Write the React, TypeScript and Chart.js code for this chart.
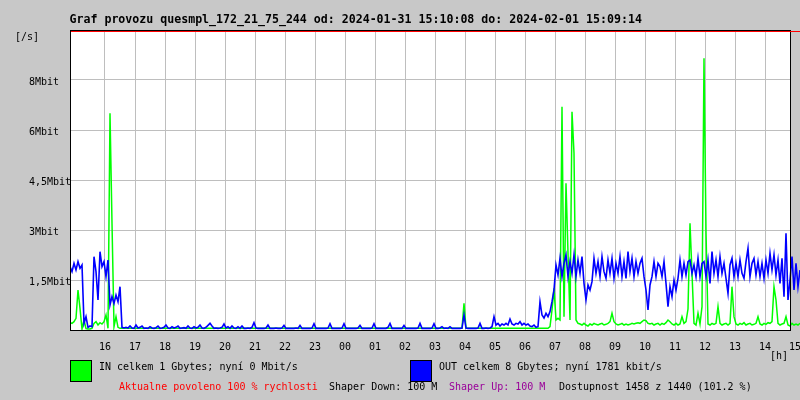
import React, { useEffect, useRef } from "react";
import { Chart, registerables } from "chart.js";

Chart.register(...registerables);

const TITLE = "Graf provozu quesmpl_172_21_75_244 od: 2024-01-31 15:10:08 do: 2024-02-01 15:09:14";
const Y_UNIT = "[/s]";
const X_UNIT = "[h]";
const LEGEND_IN = "IN celkem 1 Gbytes; nyní 0 Mbit/s";
const LEGEND_OUT = "OUT celkem 8 Gbytes; nyní 1781 kbit/s";
const FOOT_RED = "Aktualne povoleno 100 % rychlosti";
const FOOT_DOWN = "Shaper Down: 100 M";
const FOOT_UP = "Shaper Up: 100 M";
const FOOT_AVAIL = "Dostupnost 1458 z 1440 (101.2 %)";

// time axis (hours, continuing past midnight), one sample every 4 minutes
const X_MIN_HOUR = 14 + 50 / 60;
const X_MAX_HOUR = 39 + 10 / 60;
const SAMPLE_STEP_HOURS = 4 / 60;

const xTickHours = [16, 17, 18, 19, 20, 21, 22, 23, 24, 25, 26, 27, 28, 29, 30, 31, 32, 33, 34, 35, 36, 37, 38, 39];
const xTickLabels = ["16", "17", "18", "19", "20", "21", "22", "23", "00", "01", "02", "03", "04", "05", "06", "07", "08", "09", "10", "11", "12", "13", "14", "15"];

const yTickValues = [0, 1.5, 3, 4.5, 6, 7.5, 9];
const yTickLabels = ["", "1,5Mbit", "3Mbit", "4,5Mbit", "6Mbit", "8Mbit", ""];

// OUT (blue), Mbit/s
const outValues = [
  1.9, 1.75, 2.0, 1.8, 2.05, 1.85, 1.95, 0.2, 0.4, 0.08,
  0.12, 0.1, 2.2, 1.75, 0.9, 2.35, 1.9, 2.05, 1.6, 2.1,
  0.75, 1.0, 0.8, 1.05, 0.85, 1.3, 0.08,
  0.06, 0.08, 0.06, 0.12, 0.06, 0.05, 0.15, 0.06, 0.08, 0.12,
  0.05, 0.06, 0.05, 0.1, 0.06, 0.05, 0.07, 0.12, 0.05, 0.06,
  0.08, 0.15, 0.06, 0.05, 0.1, 0.06, 0.08, 0.12, 0.05, 0.06,
  0.07, 0.05, 0.12, 0.06, 0.05, 0.1, 0.06, 0.08, 0.15, 0.06,
  0.05, 0.08, 0.14, 0.2, 0.12, 0.05, 0.06, 0.05, 0.06, 0.08,
  0.18, 0.06, 0.1, 0.05, 0.12, 0.06, 0.05, 0.1, 0.05, 0.12,
  0.05, 0.05, 0.06, 0.05, 0.08, 0.22, 0.06, 0.05, 0.05, 0.05,
  0.05, 0.06, 0.15, 0.05, 0.05, 0.05, 0.06, 0.05, 0.05, 0.06,
  0.14, 0.05, 0.05, 0.05, 0.05, 0.05, 0.06, 0.05, 0.14, 0.05,
  0.05, 0.05, 0.05, 0.05, 0.06, 0.19, 0.05, 0.05, 0.05, 0.05,
  0.05, 0.05, 0.06, 0.19, 0.05, 0.05, 0.05, 0.05, 0.05, 0.06,
  0.19, 0.05, 0.05, 0.05, 0.05, 0.05, 0.05, 0.06, 0.14, 0.05,
  0.05, 0.05, 0.05, 0.05, 0.06, 0.19, 0.05, 0.05, 0.05, 0.05,
  0.05, 0.05, 0.08, 0.2, 0.05, 0.05, 0.05, 0.05, 0.05, 0.05,
  0.14, 0.05, 0.05, 0.05, 0.05, 0.05, 0.05, 0.06, 0.2, 0.05,
  0.05, 0.05, 0.05, 0.05, 0.06, 0.19, 0.05, 0.05, 0.06, 0.1,
  0.05, 0.06, 0.05, 0.1, 0.05, 0.05, 0.05, 0.05, 0.05, 0.06,
  0.45, 0.06, 0.05, 0.05, 0.05, 0.05, 0.05, 0.06, 0.2, 0.05,
  0.05, 0.06, 0.05, 0.06, 0.1, 0.4, 0.15, 0.2, 0.12, 0.18,
  0.15, 0.2, 0.15, 0.33, 0.18, 0.15, 0.2, 0.18, 0.25, 0.15,
  0.2, 0.15, 0.18, 0.12, 0.1, 0.15, 0.08,
  0.1, 0.85, 0.45, 0.36, 0.5, 0.4, 0.55, 0.85, 1.2,
  1.95, 1.65, 2.15, 1.6, 2.0, 2.25, 1.6, 2.05, 1.7, 2.25,
  1.6, 2.1, 1.7, 2.2, 1.4, 0.9, 1.35, 1.2, 1.45, 2.15,
  1.7, 2.05, 1.6, 2.2, 1.75, 1.55, 2.1, 1.7, 2.15, 1.55,
  2.0, 1.7, 2.2, 1.6, 2.05, 1.55, 2.35, 1.75, 2.15, 1.6,
  2.05, 1.7, 2.0, 2.15, 1.6, 1.2, 0.6, 1.35, 1.6, 2.05,
  1.6, 2.0, 1.9, 1.6, 2.05, 1.4, 0.7, 1.3, 1.0, 1.5,
  1.2, 1.55, 2.1, 1.6, 2.0, 1.65, 2.05, 2.1, 1.7, 1.95,
  1.6, 2.15, 1.6, 2.0, 2.05, 1.6, 2.1, 1.4, 2.35, 1.7,
  2.1, 1.6, 2.2, 1.7, 2.0, 1.55, 1.1, 1.95, 2.15, 1.6,
  2.0, 1.6, 2.1, 1.7, 1.55, 2.05, 2.45, 1.6, 2.0, 2.15,
  1.65, 2.05, 1.6, 2.0, 1.55, 2.1, 1.7, 2.3, 1.8, 2.25,
  1.65, 2.1, 1.4, 2.15, 1.0, 2.9, 0.9, 1.5, 2.2, 1.2,
  2.0, 1.3, 1.8,
];

// IN (green), Mbit/s
const inValues = [
  0.22, 0.2, 0.25, 0.35, 1.2, 0.65, 0.03, 0.3, 0.04, 0.03,
  0.03, 0.05, 0.2, 0.25, 0.15, 0.22, 0.18, 0.25, 0.45, 0.05,
  6.5, 3.2, 0.1, 0.4, 0.08, 0.05,
  0.05, 0.05, 0.05, 0.05, 0.05, 0.05, 0.05, 0.05, 0.05, 0.05,
  0.05, 0.05, 0.05, 0.05, 0.05, 0.05, 0.05, 0.05, 0.05, 0.05,
  0.05, 0.05, 0.05, 0.05, 0.05, 0.05, 0.05, 0.05, 0.05, 0.05,
  0.05, 0.05, 0.05, 0.05, 0.05, 0.05, 0.05, 0.05, 0.05, 0.05,
  0.05, 0.05, 0.05, 0.05, 0.05, 0.05, 0.05, 0.05, 0.05, 0.05,
  0.05, 0.05, 0.05, 0.05, 0.05, 0.05, 0.05, 0.05, 0.05, 0.05,
  0.05, 0.05, 0.05, 0.05, 0.05, 0.05, 0.05, 0.05, 0.05, 0.05,
  0.05, 0.05, 0.05, 0.05, 0.05, 0.05, 0.05, 0.05, 0.05, 0.05,
  0.05, 0.05, 0.05, 0.05, 0.05, 0.05, 0.05, 0.05, 0.05, 0.05,
  0.05, 0.05, 0.05, 0.05, 0.05, 0.05, 0.05, 0.05, 0.05, 0.05,
  0.05, 0.05, 0.05, 0.05, 0.05, 0.05, 0.05, 0.05, 0.05, 0.05,
  0.05, 0.05, 0.05, 0.05, 0.05, 0.05, 0.05, 0.05, 0.05, 0.05,
  0.05, 0.05, 0.05, 0.05, 0.05, 0.05, 0.05, 0.05, 0.05, 0.05,
  0.05, 0.05, 0.05, 0.05, 0.05, 0.05, 0.05, 0.05, 0.05, 0.05,
  0.05, 0.05, 0.05, 0.05, 0.05, 0.05, 0.05, 0.05, 0.05, 0.05,
  0.05, 0.05, 0.05, 0.05, 0.05, 0.05, 0.05, 0.05, 0.05, 0.05,
  0.05, 0.05, 0.05, 0.05, 0.05, 0.05, 0.05, 0.05, 0.05, 0.05,
  0.05,
  0.8,
  0.05, 0.05, 0.05, 0.05, 0.05, 0.05, 0.05, 0.05, 0.05, 0.05,
  0.05, 0.05, 0.05, 0.05, 0.05, 0.05, 0.05, 0.05, 0.05, 0.05,
  0.05, 0.05, 0.05, 0.05, 0.05, 0.05, 0.05, 0.05, 0.05, 0.05,
  0.05, 0.05, 0.05, 0.05, 0.05, 0.05, 0.05, 0.05, 0.05, 0.05,
  0.05, 0.05,
  0.1, 0.6, 1.25, 0.3, 0.35, 0.3, 6.7, 0.4, 4.4, 2.3,
  0.3, 6.55, 5.3, 0.3, 0.2,
  0.18, 0.15, 0.2, 0.15, 0.12, 0.18, 0.15, 0.2, 0.17, 0.15,
  0.18, 0.2, 0.15, 0.17, 0.2, 0.25, 0.5, 0.25, 0.18, 0.15,
  0.17, 0.2, 0.15, 0.18, 0.15, 0.17, 0.2, 0.18, 0.2, 0.22,
  0.2, 0.25, 0.3, 0.28, 0.2, 0.18, 0.2, 0.15, 0.18, 0.2,
  0.15, 0.2, 0.17, 0.22, 0.3, 0.25, 0.18, 0.15, 0.2, 0.15,
  0.18, 0.4, 0.2, 0.25, 0.63, 3.2, 1.7, 0.2, 0.15, 0.5,
  0.18, 0.7, 8.15, 2.95, 0.18, 0.15, 0.2, 0.17, 0.2, 0.7,
  0.2, 0.15, 0.18, 0.2, 0.15, 0.2, 1.3, 0.4, 0.18, 0.15,
  0.2, 0.17, 0.22, 0.15, 0.18, 0.2, 0.15, 0.17, 0.2, 0.4,
  0.18, 0.15, 0.2, 0.17, 0.22, 0.2, 0.25, 1.3, 0.9, 0.2,
  0.15, 0.18, 0.2, 0.4, 0.15, 0.12, 0.2, 0.15, 0.18, 0.15,
  0.2,
];

const BG = "#c8c8c8";
const GRID = "#bebebe";
const MONO = '"DejaVu Sans Mono", "Liberation Mono", monospace';

const toPoints = (vals: number[]) =>
  vals.map((v, i) => ({ x: X_MIN_HOUR + i * SAMPLE_STEP_HOURS, y: v }));

const framePlugin = {
  id: "mrtgFrame",
  beforeDraw(chart: any) {
    const ctx = chart.ctx as CanvasRenderingContext2D;
    ctx.save();
    ctx.fillStyle = BG;
    ctx.fillRect(0, 0, chart.width, chart.height);
    ctx.fillStyle = "#ffffff";
    ctx.fillRect(70, 30, 720, 300);
    ctx.restore();
  },
  beforeDatasetsDraw(chart: any) {
    const ctx = chart.ctx as CanvasRenderingContext2D;
    ctx.save();
    ctx.fillStyle = BG;
    ctx.fillRect(791, 30, 9, 301);
    ctx.restore();
  },
  afterDatasetsDraw(chart: any) {
    const ctx = chart.ctx as CanvasRenderingContext2D;
    ctx.save();
    ctx.fillStyle = "#000000";
    ctx.fillRect(70, 30, 721, 1);
    ctx.fillRect(70, 30, 1, 301);
    ctx.fillRect(790, 30, 1, 301);
    ctx.fillRect(70, 330, 721, 1);
    ctx.fillStyle = "#ff0000";
    ctx.fillRect(71, 31, 729, 1);
    ctx.restore();
  },
  afterDraw(chart: any) {
    const ctx = chart.ctx as CanvasRenderingContext2D;
    ctx.save();
    ctx.textBaseline = "alphabetic";
    ctx.textAlign = "left";
    ctx.fillStyle = "#000000";
    ctx.font = `bold 11.6px ${MONO}`;
    ctx.fillText(TITLE, 69.5, 23);
    ctx.font = `10px ${MONO}`;
    ctx.fillText(Y_UNIT, 15, 40);
    ctx.fillText(X_UNIT, 770, 359);
    // legend boxes
    ctx.fillStyle = "#000000";
    ctx.fillRect(70, 360, 22, 22);
    ctx.fillRect(410, 360, 22, 22);
    ctx.fillStyle = "#00ff00";
    ctx.fillRect(71, 361, 20, 20);
    ctx.fillStyle = "#0000ff";
    ctx.fillRect(411, 361, 20, 20);
    ctx.fillStyle = "#000000";
    ctx.fillText(LEGEND_IN, 99, 370);
    ctx.fillText(LEGEND_OUT, 439, 370);
    ctx.fillStyle = "#ff0000";
    ctx.fillText(FOOT_RED, 119, 390);
    ctx.fillStyle = "#000000";
    ctx.fillText(FOOT_DOWN, 329, 390);
    ctx.fillStyle = "#990099";
    ctx.fillText(FOOT_UP, 449, 390);
    ctx.fillStyle = "#000000";
    ctx.fillText(FOOT_AVAIL, 559, 390);
    ctx.restore();
  },
};

export default function App() {
  const ref = useRef<HTMLCanvasElement>(null);
  useEffect(() => {
    if (!ref.current) return;
    const chart = new Chart(ref.current, {
      type: "line",
      data: {
        datasets: [
          {
            label: "OUT",
            data: toPoints(outValues),
            borderColor: "#0000ff",
            borderWidth: 1.6,
            pointRadius: 0,
            tension: 0,
            fill: false,
            order: 0,
          },
          {
            label: "IN",
            data: toPoints(inValues),
            borderColor: "#00ff00",
            borderWidth: 1.5,
            pointRadius: 0,
            tension: 0,
            fill: false,
            order: 1,
          },
        ],
      },
      options: {
        animation: false,
        responsive: false,
        devicePixelRatio: 1,
        layout: { padding: { left: 29, right: 0, top: 30, bottom: 0 } },
        plugins: {
          legend: { display: false },
          tooltip: { enabled: false },
          title: { display: false },
        },
        scales: {
          x: {
            type: "linear",
            min: X_MIN_HOUR,
            max: X_MAX_HOUR,
            afterBuildTicks: (s: any) => {
              s.ticks = xTickHours.map((v) => ({ value: v }));
            },
            afterFit: (s: any) => {
              s.height = 70;
              s.paddingLeft = 0;
              s.paddingRight = 0;
            },
            ticks: {
              autoSkip: false,
              maxRotation: 0,
              minRotation: 0,
              padding: 11,
              color: "#000000",
              font: { family: MONO, size: 10 },
              callback: (_v: any, i: number) => xTickLabels[i],
            },
            grid: {
              drawTicks: false,
              lineWidth: 1,
              color: (c: any) =>
                c.tick && c.tick.value === xTickHours[xTickHours.length - 1] ? "rgba(0,0,0,0)" : GRID,
            },
            border: { display: false },
          },
          y: {
            type: "linear",
            min: 0,
            max: 9,
            afterBuildTicks: (s: any) => {
              s.ticks = yTickValues.map((v) => ({ value: v }));
            },
            afterFit: (s: any) => {
              s.width = 41;
            },
            ticks: {
              crossAlign: "far",
              labelOffset: 2.5,
              padding: 0,
              color: "#000000",
              font: { family: MONO, size: 10 },
              callback: (_v: any, i: number) => yTickLabels[i],
            },
            grid: { drawTicks: false, lineWidth: 1, color: GRID },
            border: { display: false },
          },
        },
      },
      plugins: [framePlugin],
    } as any);
    return () => chart.destroy();
  }, []);
  return (
    <div style={{ position: "absolute", left: 0, top: 0, width: 800, height: 400 }}>
      <canvas ref={ref} width={800} height={400} style={{ display: "block" }} />
    </div>
  );
}
